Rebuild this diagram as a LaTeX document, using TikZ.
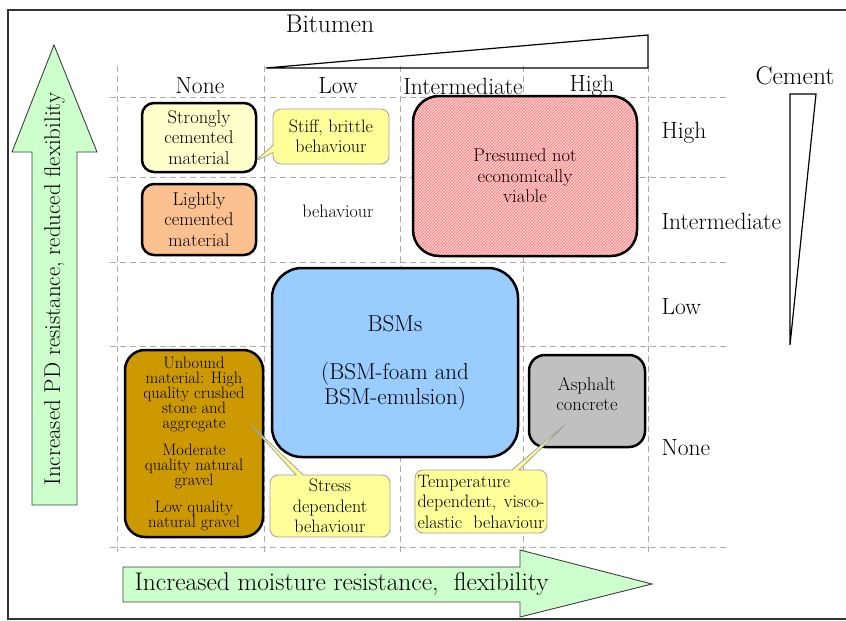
\documentclass[tikz,border=0pt]{standalone}
\usetikzlibrary{shapes.callouts, patterns}

\definecolor{paleyellow}{HTML}{FFFFCC}
\definecolor{noteyellow}{HTML}{FFFF99}
\definecolor{peach}{HTML}{FAC090}
\definecolor{skyblue}{HTML}{99CCFF}
\definecolor{ochre}{HTML}{CC9900}
\definecolor{asphaltgray}{HTML}{C0C0C0}
\definecolor{mint}{HTML}{CCFFCC}
\definecolor{hatchred}{HTML}{FFCCCC}
\setlength{\lineskiplimit}{-20pt}

\begin{document}
\begin{tikzpicture}[x=1pt, y=-1pt,
    grid/.style={gray!65, dash pattern=on 6pt off 4pt, line width=0.9pt},
    lbl/.style={font=\fontsize{23.5}{26}\selectfont},
    matbox/.style={draw=black, line width=2.5pt, rounded corners=12pt, inner sep=0pt, align=center, font=\fontsize{18.5}{20.5}\selectfont},
    note/.style={rectangle callout, draw=gray!75, line width=0.8pt, fill=noteyellow, rounded corners=8pt, inner sep=0pt, align=center, font=\fontsize{18}{20.5}\selectfont},
    bigarrow/.style={draw=black!75, fill=mint, line width=0.9pt}]
    \useasboundingbox (0,0) rectangle (846,621);

    % Frame
    \draw[line width=1.3pt, black!80] (846,10) -- (8,10) -- (8,619) -- (846,619);

    % Grid
    \foreach \gx in {117,264,400,523,648}
        \draw[grid] (\gx,66) -- (\gx,552);
    \foreach \gy in {97,177,262,346,547}
        \draw[grid] (110,\gy) -- (730,\gy);

    % Bitumen and cement wedges
    \node[lbl, font=\fontsize{25.5}{28}\selectfont] (bitumen) at (330,24) {Bitumen};
    \draw[line width=1.2pt] (266,68) -- (648,35) -- (648,68) -- cycle;
    \node[lbl, font=\fontsize{25.5}{28}\selectfont] (cement) at (795,76) {Cement};
    \draw[line width=1.2pt] (790,94) -- (816,94) -- (790,345) -- cycle;

    % Column labels (bitumen)
    \node[lbl] (bnone) at (200,86) {None};
    \node[lbl] (blow) at (338,86) {Low};
    \node[lbl] (bint) at (463,86) {Intermediate};
    \node[lbl] (bhigh) at (592,86) {High};

    % Row labels (cement)
    \node[lbl, anchor=west] (chigh) at (658,133) {High};
    \node[lbl, anchor=west] (cint) at (658,221) {Intermediate};
    \node[lbl, anchor=west] (clow) at (658,307) {Low};
    \node[lbl, anchor=west] (cnone) at (658,448) {None};

    % Materials
    \node[matbox, fill=paleyellow, minimum width=114pt, minimum height=69pt] (strong) at (199,137.5) {Strongly\\cemented\\material};
    \node[matbox, fill=peach, minimum width=114pt, minimum height=71pt] (light) at (199,219.5) {Lightly\\cemented\\material};
    \node[font=\fontsize{18}{20.5}\selectfont] (behav) at (338,211) {behaviour};
    \node[matbox, rounded corners=26pt, minimum width=224pt, minimum height=160pt,
        preaction={fill=hatchred}, pattern=north east lines, pattern color=red!55,
        path picture={\draw[gray!50, line width=1.5pt] (413,122) -- (637,122) (413,209) -- (637,209) (461,98) -- (461,258) (550,98) -- (550,258);}]
        (notviable) at (525,176) {Presumed not\\economically\\viable};
    \node[matbox, fill=skyblue, rounded corners=30pt, minimum width=246pt, minimum height=189pt, font=\fontsize{23}{25}\selectfont] (bsm) at (395,362.5) {BSMs\\[23pt](BSM-foam and\\BSM-emulsion)};
    \node[matbox, fill=ochre, rounded corners=20pt, minimum width=138pt, minimum height=187pt, font=\fontsize{16.5}{15}\selectfont] (unbound) at (194,443.5)
        {Unbound\\material: High\\quality crushed\\stone and\\aggregate\\[12pt]Moderate\\quality natural\\gravel\\[12pt]Low quality\\natural gravel};
    \node[matbox, fill=asphaltgray, rounded corners=16pt, minimum width=116pt, minimum height=92pt, text depth=14pt] (asphalt) at (587,401) {Asphalt\\concrete};

    % Callouts
    \node[note, minimum width=116pt, minimum height=55pt, callout absolute pointer={(254,162)}] (stiff) at (331,136.5) {Stiff, brittle\\behaviour};
    \node[note, minimum width=120pt, minimum height=62pt, callout absolute pointer={(248,422)}] (stress) at (330,506) {Stress\\dependent\\behaviour};
    \node[note, minimum width=132pt, minimum height=63pt, callout absolute pointer={(567,423)}, align=left] (temp) at (481,501.5)
        {Temperature\\\makebox[127pt][s]{dependent, visco-}\\\makebox[127pt][s]{elastic behaviour}};

    % Trend arrows
    \draw[bigarrow] (32,505) -- (32,152) -- (12,152) -- (54,45) -- (97,152) -- (77,152) -- (77,505) -- cycle;
    \node[rotate=90, font=\fontsize{22.8}{25}\selectfont] (pdres) at (54.5,289) {Increased PD resistance, reduced flexibility};
    \draw[bigarrow] (123,567) -- (520,567) -- (520,550) -- (652,584) -- (520,617) -- (520,602) -- (123,602) -- cycle;
    \node[anchor=west, font=\fontsize{25.5}{27}\selectfont] (moist) at (131,584) {Increased moisture resistance,\ \ flexibility};
\end{tikzpicture}
\end{document}
